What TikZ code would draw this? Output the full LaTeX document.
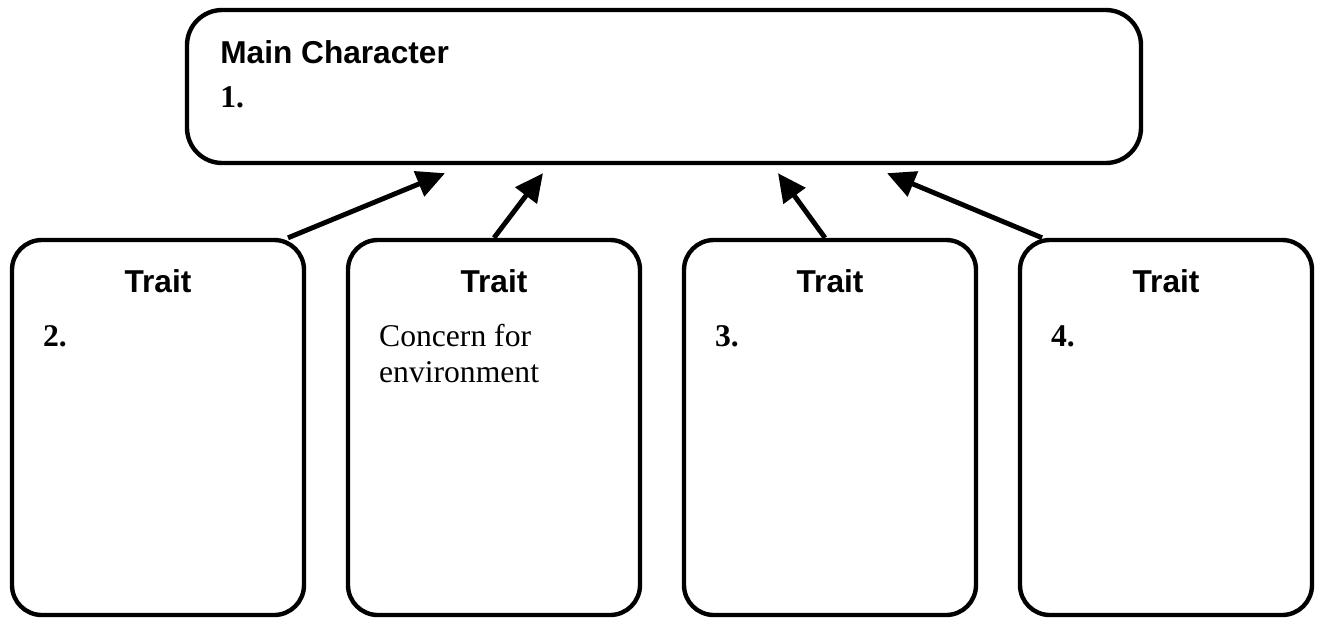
\documentclass[tikz,border=0pt]{standalone}
\usepackage{fontspec}
\setmainfont{Liberation Serif}
\setsansfont{Liberation Sans}
\usetikzlibrary{arrows.meta,positioning}

\begin{document}
\begin{tikzpicture}[
  box/.style={draw, line width=2.5pt, rounded corners=20pt, minimum width=19.08cm, minimum height=3.06cm},
  trait/.style={draw, line width=2.5pt, rounded corners=17pt, minimum width=5.84cm, minimum height=7.5cm},
  head/.style={font=\sffamily\bfseries\fontsize{18}{20.5}\selectfont, inner sep=0pt},
  entry/.style={font=\fontsize{18}{20.5}\selectfont, inner sep=0pt, align=left},
  arrow/.style={-{Triangle[length=16pt,width=15pt]}, line width=2.8pt}
]
\useasboundingbox (0,0) rectangle (26.44,-12.38);

\node[box] (main) at (13.28,-1.73) {};
\node[head, anchor=base west] (mainhead) at (4.4,-1.26) {Main Character};
\node[entry, anchor=base west] (mainnum) at (4.4,-2.14) {\bfseries 1.};

\node[trait] (trait1) at (3.16,-8.55) {};
\node[trait] (trait2) at (9.88,-8.55) {};
\node[trait] (trait3) at (16.6,-8.55) {};
\node[trait] (trait4) at (23.32,-8.55) {};

\node[head, anchor=base] (head1) at ([yshift=-1.1cm]trait1.north) {Trait};
\node[head, anchor=base] (head2) at ([yshift=-1.1cm]trait2.north) {Trait};
\node[head, anchor=base] (head3) at ([yshift=-1.1cm]trait3.north) {Trait};
\node[head, anchor=base] (head4) at ([yshift=-1.1cm]trait4.north) {Trait};

\node[entry, anchor=base west] (num1) at ([xshift=0.66cm,yshift=-2.18cm]trait1.north west) {\bfseries 2.};
% base of a two-line node is its last line
\node[entry, anchor=base west] (note2) at ([xshift=0.66cm,yshift=-2.9cm]trait2.north west) {Concern for\\environment};
\node[entry, anchor=base west] (num3) at ([xshift=0.66cm,yshift=-2.18cm]trait3.north west) {\bfseries 3.};
\node[entry, anchor=base west] (num4) at ([xshift=0.66cm,yshift=-2.18cm]trait4.north west) {\bfseries 4.};

\draw[arrow] ([xshift=2.6cm]trait1.north) -- ([xshift=-4.38cm,yshift=-1.6mm]main.south);
\draw[arrow] (trait2.north) -- ([xshift=-2.42cm,yshift=-1.6mm]main.south);
\draw[arrow] ([xshift=-0.1cm]trait3.north) -- ([xshift=2.28cm,yshift=-1.6mm]main.south);
\draw[arrow] ([xshift=-2.48cm]trait4.north) -- ([xshift=4.46cm,yshift=-1.6mm]main.south);

\end{tikzpicture}
\end{document}
